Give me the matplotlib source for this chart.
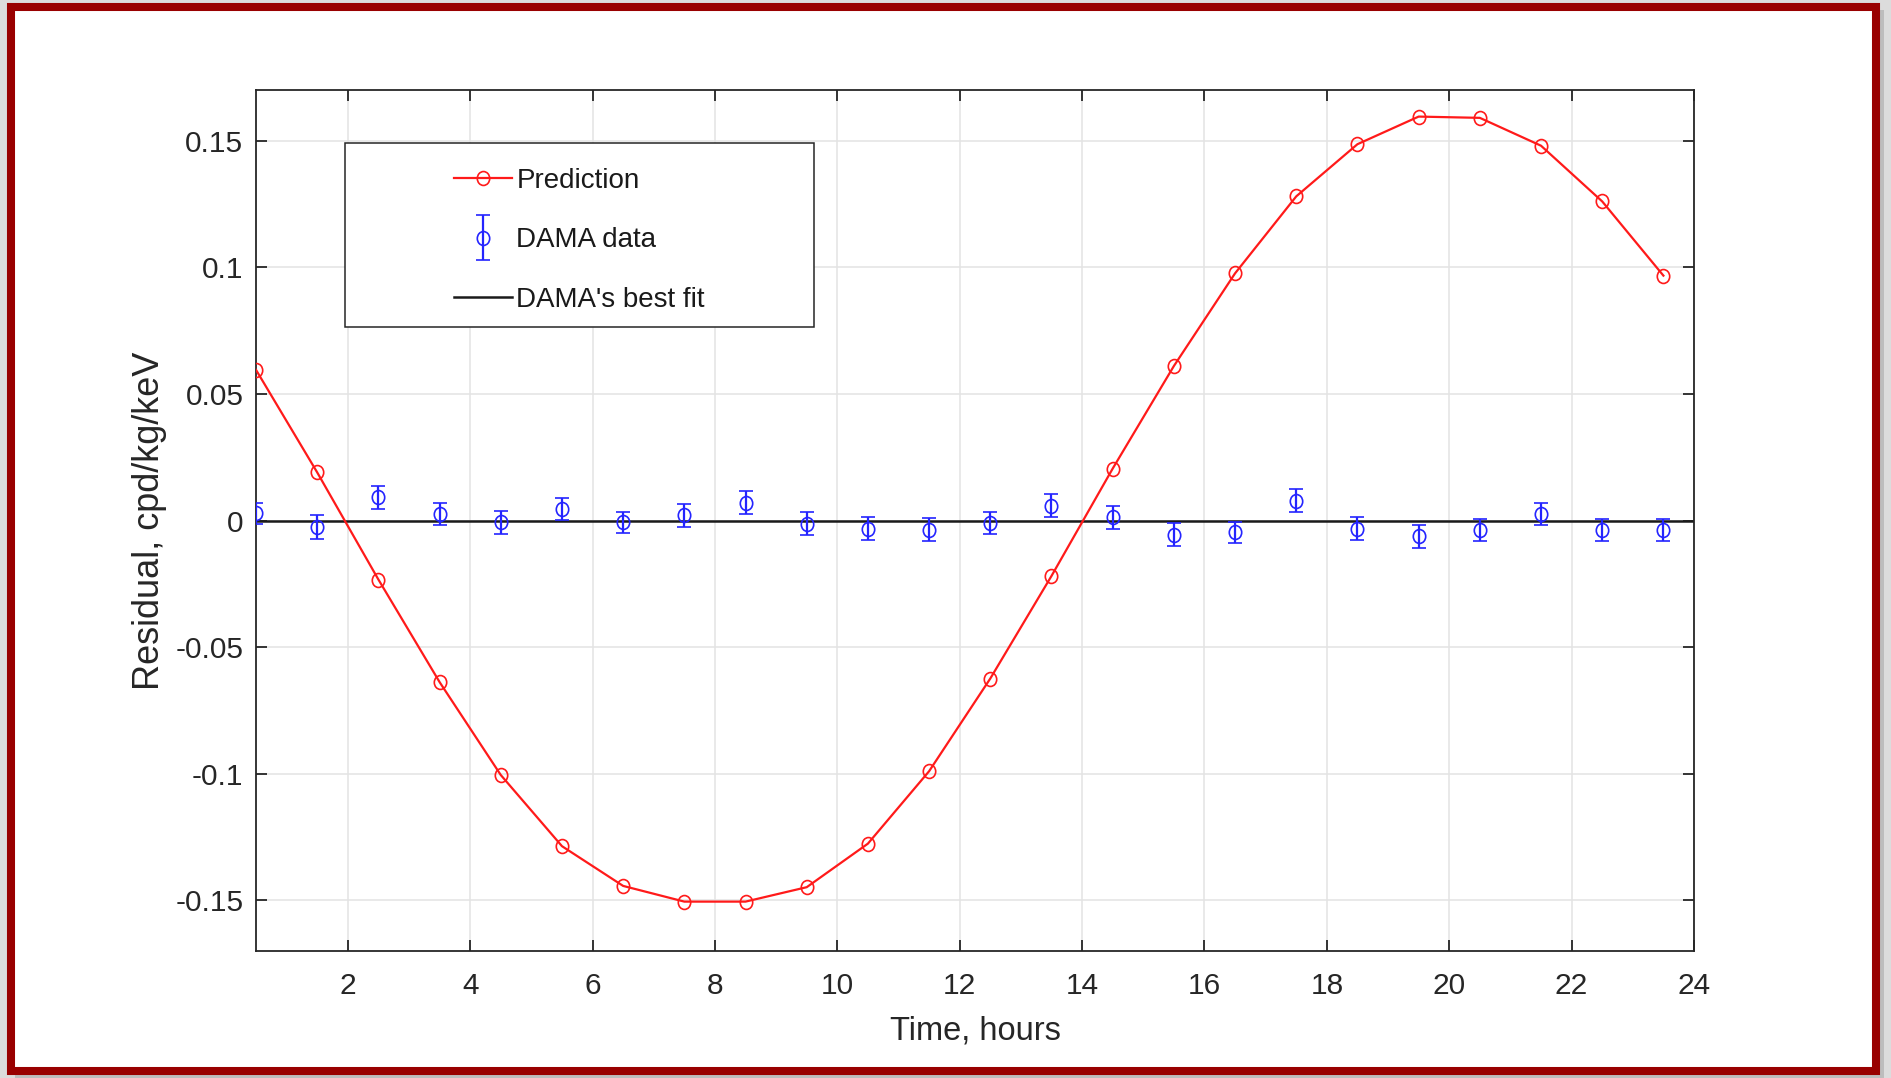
import matplotlib
matplotlib.use("Agg")
import matplotlib.pyplot as plt
from matplotlib.patches import Rectangle
from matplotlib.path import Path
from matplotlib.transforms import Affine2D
from matplotlib.container import ErrorbarContainer
from matplotlib.legend_handler import HandlerErrorbar

plt.rcParams["font.family"] = ["Liberation Sans", "DejaVu Sans"]

# hours (bin centres)
hours = [0.5, 1.5, 2.5, 3.5, 4.5, 5.5, 6.5, 7.5, 8.5, 9.5, 10.5, 11.5,
         12.5, 13.5, 14.5, 15.5, 16.5, 17.5, 18.5, 19.5, 20.5, 21.5, 22.5, 23.5]

prediction = [0.0595, 0.019, -0.0233, -0.0638, -0.1005, -0.1286, -0.1443, -0.1505,
              -0.1505, -0.1448, -0.1276, -0.099, -0.0624, -0.0219, 0.0205, 0.061,
              0.0976, 0.128, 0.1486, 0.1595, 0.159, 0.148, 0.126, 0.0967]

dama = [0.0029, -0.0026, 0.0091, 0.0026, -0.0007, 0.0046, -0.0007, 0.0020,
        0.0071, -0.0013, -0.0033, -0.0037, -0.0010, 0.0059, 0.0012, -0.0056,
        -0.0046, 0.0078, -0.0033, -0.0063, -0.0038, 0.0026, -0.0038, -0.0038]

dama_err = [0.0041, 0.0046, 0.0046, 0.0045, 0.0045, 0.0043, 0.0042, 0.0045,
            0.0044, 0.0045, 0.0045, 0.0045, 0.0042, 0.0045, 0.0045, 0.0045,
            0.0041, 0.0045, 0.0045, 0.0045, 0.0044, 0.0045, 0.0042, 0.0044]

fit_x = [0, 24]
fit_y = [0, 0]

xticks = [2, 4, 6, 8, 10, 12, 14, 16, 18, 20, 22, 24]
yticks = [-0.15, -0.1, -0.05, 0, 0.05, 0.1, 0.15]
ytick_labels = ["-0.15", "-0.1", "-0.05", "0", "0.05", "0.1", "0.15"]

# the source figure is slightly stretched vertically -> oval markers
oval = Path.unit_circle().transformed(Affine2D().scale(1, 1.12))

W, H = 1891, 1078
fig = plt.figure(figsize=(W / 100, H / 100), dpi=100)
fig.patch.set_facecolor("#dcdcdc")

# shadow + red frame
fig.patches.append(Rectangle((15 / W, 0), 1869 / W, 1 - 10 / H, transform=fig.transFigure,
                             facecolor="#bdbdbd", edgecolor="none", zorder=0))
fig.patches.append(Rectangle((11 / W, 1 - 1071 / H), 1865 / W, 1064 / H, transform=fig.transFigure,
                             facecolor="white", edgecolor="#990000", linewidth=5.8, zorder=1))

ax = fig.add_axes([256 / W, 1 - 951 / H, 1438 / W, 861 / H])
ax.set_zorder(2)

ax.plot(fit_x, fit_y, color="#1a1a1a", linewidth=1.8, label="DAMA's best fit", zorder=2)
ax.plot(hours, prediction, color="#ff1a1a", linewidth=1.6, marker=oval, markersize=10,
        markerfacecolor="none", markeredgewidth=1.2, label="Prediction", zorder=3)
ax.errorbar(hours, dama, yerr=dama_err, marker=oval, linestyle="none", color="#2424ff",
            markersize=10, markerfacecolor="none", markeredgewidth=1.2,
            elinewidth=1.6, capsize=4.8, capthick=1.6, label="DAMA data", zorder=4)

ax.set_xlim(0.5, 24)
ax.set_ylim(-0.17, 0.17)
ax.set_xticks(xticks)
ax.set_yticks(yticks)
ax.set_yticklabels(ytick_labels)
ax.grid(True, color="#e3e3e3", linewidth=1.1)
ax.set_axisbelow(True)
ax.tick_params(direction="in", length=8, width=1.3, colors="#262626", labelsize=21.5,
               top=True, right=True)
ax.tick_params(axis="x", pad=15)
ax.tick_params(axis="y", pad=9)
for s in ax.spines.values():
    s.set_color("#262626")
    s.set_linewidth(1.3)

ax.set_xlabel("Time, hours", fontsize=23.5, color="#262626", labelpad=11)
ax.set_ylabel("Residual, cpd/kg/keV", fontsize=26, color="#262626", labelpad=6)

# legend box
fig.patches.append(Rectangle((345 / W, 1 - 327 / H), 469 / W, 184 / H, transform=fig.transFigure,
                             facecolor="white", edgecolor="#262626", linewidth=1.1, zorder=3))
handles, labels = ax.get_legend_handles_labels()
order = [labels.index("Prediction"), labels.index("DAMA data"), labels.index("DAMA's best fit")]
leg = fig.legend([handles[i] for i in order], [labels[i] for i in order],
                 loc="upper left", bbox_to_anchor=(454 / W, 1 - 168 / H),
                 frameon=False, fontsize=20, handlelength=2.1, handletextpad=0.15,
                 labelspacing=1.2, borderpad=0, borderaxespad=0,
                 handler_map={ErrorbarContainer: HandlerErrorbar(yerr_size=0.8)})
leg.set_zorder(5)
for t in leg.get_texts():
    t.set_color("#1a1a1a")

fig.savefig("out.png", dpi=100, facecolor=fig.get_facecolor())
